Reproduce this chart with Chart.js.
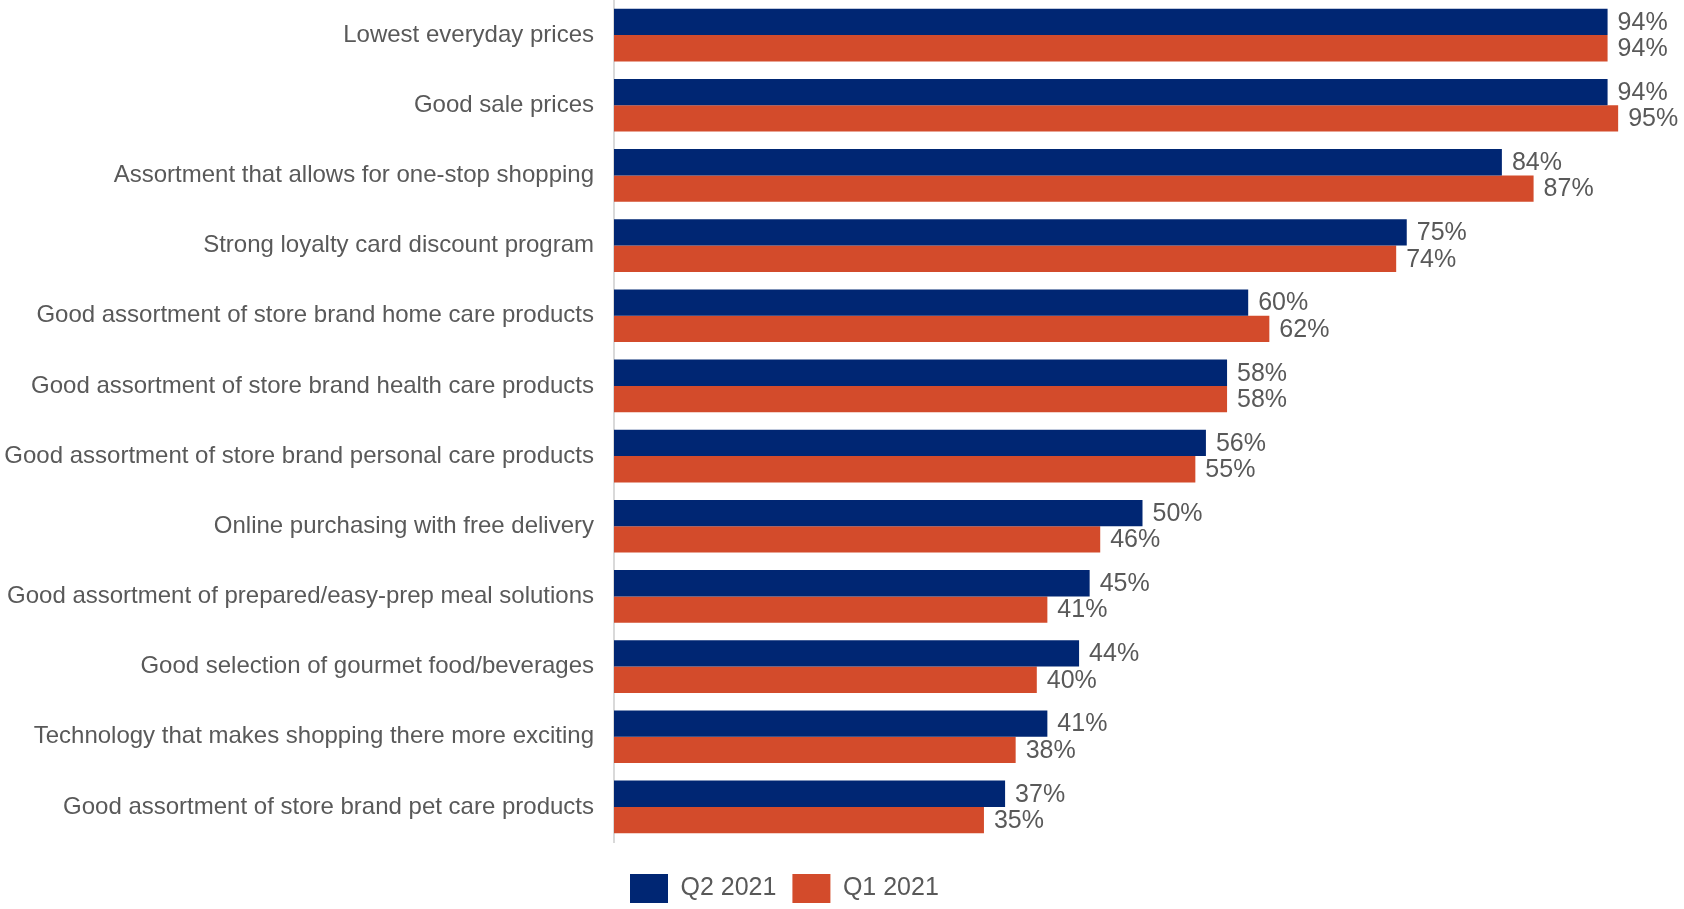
<!DOCTYPE html>
<html>
<head>
<meta charset="utf-8">
<script src="https://cdn.jsdelivr.net/npm/chart.js@4.4.0/dist/chart.umd.min.js"></script>
<style>
  body { margin: 0; background: #fff; }
  #wrap { width: 1684px; height: 909px; position: relative; }
</style>
</head>
<body>
<div id="wrap"><canvas id="drivers"></canvas></div>
<script>
// attributes, top to bottom
var attributes = [
  "Lowest everyday prices",
  "Good sale prices",
  "Assortment that allows for one-stop shopping",
  "Strong loyalty card discount program",
  "Good assortment of store brand home care products",
  "Good assortment of store brand health care products",
  "Good assortment of store brand personal care products",
  "Online purchasing with free delivery",
  "Good assortment of prepared/easy-prep meal solutions",
  "Good selection of gourmet food/beverages",
  "Technology that makes shopping there more exciting",
  "Good assortment of store brand pet care products"
];
var q2_2021 = [94, 94, 84, 75, 60, 58, 56, 50, 45, 44, 41, 37];
var q1_2021 = [94, 95, 87, 74, 62, 58, 55, 46, 41, 40, 38, 35];

var textGrey = "#595959";
var fontFam = "'Liberation Sans', Arial, sans-serif";

// prozentwerte rechts neben die balken schreiben
var valueLabels = {
  id: "valueLabels",
  afterDatasetsDraw: function(chart) {
    var ctx = chart.ctx;
    ctx.save();
    ctx.font = "25px " + fontFam;
    ctx.fillStyle = textGrey;
    ctx.textAlign = "left";
    ctx.textBaseline = "middle";
    chart.data.datasets.forEach(function(ds, di) {
      var meta = chart.getDatasetMeta(di);
      meta.data.forEach(function(bar, i) {
        ctx.fillText(ds.data[i] + "%", bar.x + 10, bar.y + 1);
      });
    });
    ctx.restore();
  }
};

var chartdata = {
  labels: attributes,
  datasets: [
    {
      label: "Q2 2021",
      backgroundColor: "#002673",
      data: q2_2021,
      categoryPercentage: 0.75,
      barPercentage: 1.0
    },
    {
      label: "Q1 2021",
      backgroundColor: "#D34B2B",
      data: q1_2021,
      categoryPercentage: 0.75,
      barPercentage: 1.0
    }
  ]
};

var ctx = document.getElementById("drivers");
var myChart = new Chart(ctx, {
  type: "bar",
  data: chartdata,
  plugins: [valueLabels],
  options: {
    indexAxis: "y",
    responsive: true,
    maintainAspectRatio: false,
    animation: false,
    layout: { padding: { left: 0, right: 13, top: 0, bottom: -4 } },
    plugins: {
      tooltip: { enabled: false },
      legend: {
        position: "bottom",
        align: "start",
        fullSize: false,
        labels: {
          boxWidth: 38,
          boxHeight: 29,
          padding: 16,
          color: textGrey,
          font: { family: fontFam, size: 25 }
        }
      }
    },
    scales: {
      x: {
        min: 0,
        max: 100,
        grid: { display: false },
        border: { display: false },
        ticks: { display: false },
        afterFit: function(axis) { axis.height = 16; }
      },
      y: {
        grid: { display: false, drawTicks: false },
        border: { display: true, color: "#d9d9d9", width: 2 },
        ticks: {
          color: textGrey,
          padding: 20,
          font: { family: fontFam, size: 24 }
        },
        afterFit: function(axis) {
          axis.width = 614;
          // kein extra rand oben/unten fuer die beschriftung
          axis.paddingTop = 0;
          axis.paddingBottom = 0;
        }
      }
    }
  }
});
</script>
</body>
</html>
